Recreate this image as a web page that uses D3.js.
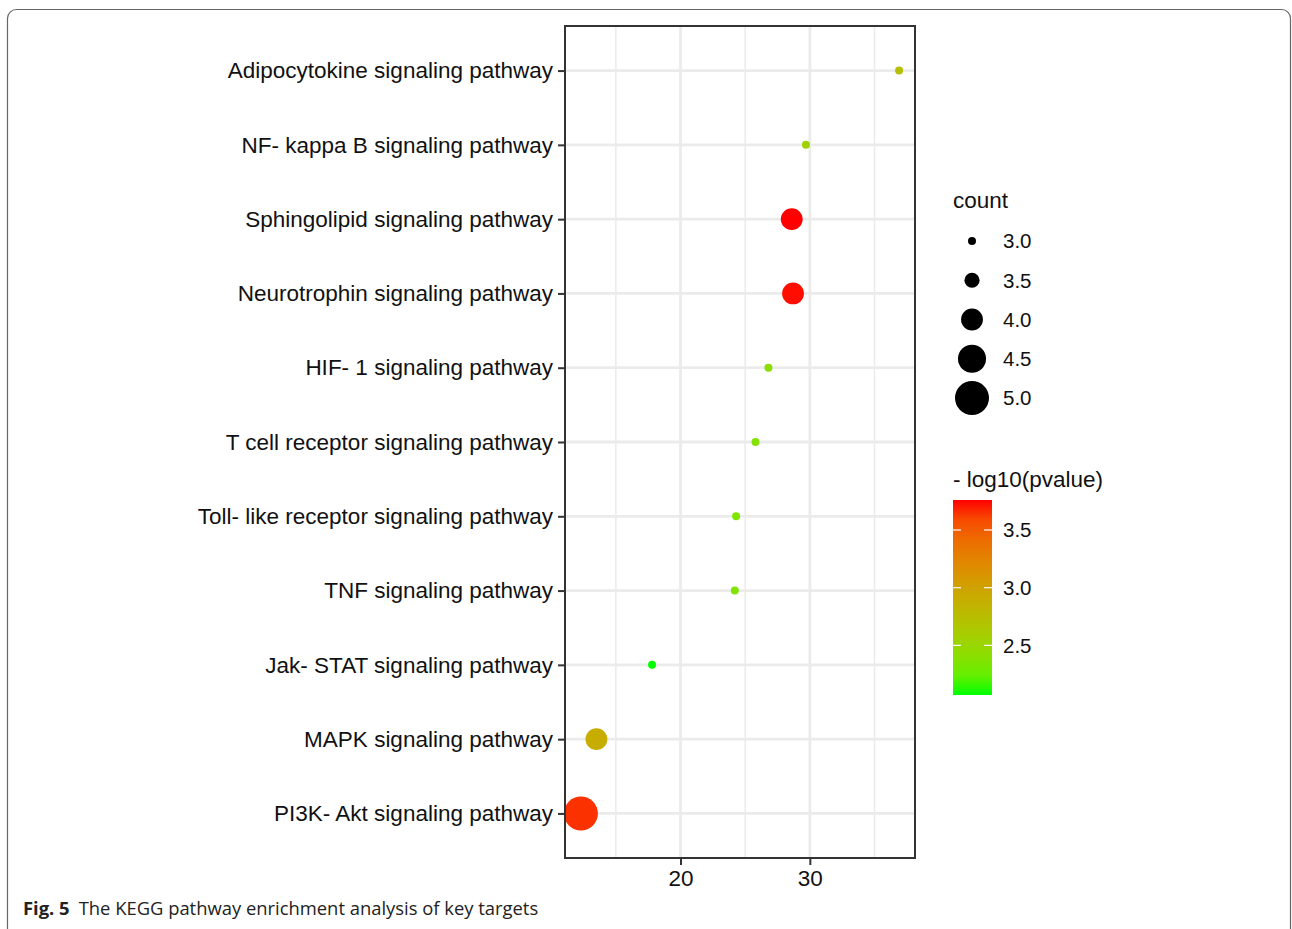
<!DOCTYPE html>
<html>
<head>
<meta charset="utf-8">
<script src="https://cdn.jsdelivr.net/npm/d3@7"></script>
<style>
  body { margin: 0; background: #fff; }
  svg text { font-family: Arial, "Liberation Sans", Helvetica, sans-serif; }
</style>
</head>
<body>
<svg id="chart" width="1292" height="929"></svg>
<script>
// pathways, top to bottom
const pathways = [
  "Adipocytokine signaling pathway",
  "NF- kappa B signaling pathway",
  "Sphingolipid signaling pathway",
  "Neurotrophin signaling pathway",
  "HIF- 1 signaling pathway",
  "T cell receptor signaling pathway",
  "Toll- like receptor signaling pathway",
  "TNF signaling pathway",
  "Jak- STAT signaling pathway",
  "MAPK signaling pathway",
  "PI3K- Akt signaling pathway"
];
const xValues = [36.9, 29.7, 28.6, 28.7, 26.8, 25.8, 24.3, 24.2, 17.8, 13.5, 12.3];
const counts = [3, 3, 4, 4, 3, 3, 3, 3, 3, 4, 5];
const logP = [2.72, 2.55, 3.76, 3.75, 2.42, 2.38, 2.35, 2.36, 2.07, 2.9, 3.68];

const xTicks = [20, 30];
const xMinor = [15, 25, 35];
const sizeTicks = [3.0, 3.5, 4.0, 4.5, 5.0];
const colorTicks = [2.5, 3.0, 3.5];

const FONT = "Arial, 'Liberation Sans', Helvetica, sans-serif";

const svg = d3.select("#chart");

// cadre de la figure
svg.append("rect")
  .attr("x", 7.5).attr("y", 9.5)
  .attr("width", 1283).attr("height", 940)
  .attr("rx", 9)
  .attr("fill", "none")
  .attr("stroke", "#666")
  .attr("stroke-width", 1.2);

const panel = { left: 565, right: 915, top: 26, bottom: 858 };

// echelles
const ext = d3.extent(xValues);
const pad = (ext[1] - ext[0]) * 0.05;
const x = d3.scaleLinear().domain([ext[0] - pad, ext[1] + pad]).range([panel.left, panel.right]);

const y = d3.scalePoint().domain(pathways).range([panel.top, panel.bottom]).padding(0.6);

const r = d3.scalePow().exponent(0.5).domain([3, 5]).range([4, 17]);

const pExt = d3.extent(logP);
const color = d3.scaleLinear().domain(pExt).range(["#00ff00", "#ff0000"]).interpolate(d3.interpolateLab);

// grille
const grid = svg.append("g");
grid.selectAll(".minor").data(xMinor).join("line")
  .attr("x1", d => x(d)).attr("x2", d => x(d))
  .attr("y1", panel.top).attr("y2", panel.bottom)
  .attr("stroke", "#ebebeb").attr("stroke-width", 1.5);
grid.selectAll(".majx").data(xTicks).join("line")
  .attr("x1", d => x(d)).attr("x2", d => x(d))
  .attr("y1", panel.top).attr("y2", panel.bottom)
  .attr("stroke", "#ebebeb").attr("stroke-width", 2.8);
grid.selectAll(".majy").data(pathways).join("line")
  .attr("x1", panel.left).attr("x2", panel.right)
  .attr("y1", d => y(d)).attr("y2", d => y(d))
  .attr("stroke", "#ebebeb").attr("stroke-width", 2.8);

// points
svg.append("g").selectAll("circle").data(pathways).join("circle")
  .attr("cx", (d, i) => x(xValues[i]))
  .attr("cy", d => y(d))
  .attr("r", (d, i) => r(counts[i]))
  .attr("fill", (d, i) => color(logP[i]));

// bordure du panneau
svg.append("rect")
  .attr("x", panel.left).attr("y", panel.top)
  .attr("width", panel.right - panel.left).attr("height", panel.bottom - panel.top)
  .attr("fill", "none").attr("stroke", "#333").attr("stroke-width", 2);

// axes
const xAxis = svg.append("g")
  .attr("transform", `translate(0,${panel.bottom})`)
  .call(d3.axisBottom(x).tickValues(xTicks).tickSize(7).tickPadding(5));
const yAxis = svg.append("g")
  .attr("transform", `translate(${panel.left},0)`)
  .call(d3.axisLeft(y).tickSize(7).tickPadding(5));

[xAxis, yAxis].forEach(a => {
  a.attr("font-family", FONT);
  a.select(".domain").remove();
  a.selectAll(".tick line").attr("stroke", "#333").attr("stroke-width", 2);
  a.selectAll(".tick text").attr("fill", "#111").style("font-size", "22.5px")
    .style("font-family", FONT);
});

// legende des tailles
const sizeLeg = svg.append("g").attr("transform", "translate(953,0)");
sizeLeg.append("text").attr("x", 0).attr("y", 208).text("count")
  .style("font-size", "22.5px").attr("fill", "#111");
const keyY = d3.scaleLinear().domain([3, 5]).range([241, 398]);
sizeLeg.selectAll("circle").data(sizeTicks).join("circle")
  .attr("cx", 19).attr("cy", d => keyY(d)).attr("r", d => r(d)).attr("fill", "#000");
sizeLeg.selectAll(".lab").data(sizeTicks).join("text")
  .attr("x", 50).attr("y", d => keyY(d)).attr("dy", "0.36em")
  .text(d => d3.format(".1f")(d))
  .style("font-size", "20.5px").attr("fill", "#111");

// legende des couleurs
const barTop = 500, barBottom = 695, barW = 39;
const colLeg = svg.append("g").attr("transform", "translate(953,0)");
colLeg.append("text").attr("x", 0).attr("y", 487).text("- log10(pvalue)")
  .style("font-size", "22.5px").attr("fill", "#111");

const defs = svg.append("defs");
const grad = defs.append("linearGradient").attr("id", "pgrad")
  .attr("x1", 0).attr("x2", 0).attr("y1", 1).attr("y2", 0);
d3.range(0, 1.001, 0.1).forEach(t => {
  grad.append("stop").attr("offset", t)
    .attr("stop-color", color(pExt[0] + t * (pExt[1] - pExt[0])));
});
colLeg.append("rect")
  .attr("x", 0).attr("y", barTop).attr("width", barW).attr("height", barBottom - barTop)
  .attr("fill", "url(#pgrad)");

const cy = d3.scaleLinear().domain(pExt).range([barBottom, barTop]);
colorTicks.forEach(v => {
  colLeg.append("line").attr("x1", 0).attr("x2", 8)
    .attr("y1", cy(v)).attr("y2", cy(v)).attr("stroke", "#fff").attr("stroke-width", 1.2);
  colLeg.append("line").attr("x1", barW - 8).attr("x2", barW)
    .attr("y1", cy(v)).attr("y2", cy(v)).attr("stroke", "#fff").attr("stroke-width", 1.2);
  colLeg.append("text").attr("x", 50).attr("y", cy(v)).attr("dy", "0.36em")
    .text(d3.format(".1f")(v)).style("font-size", "20.5px").attr("fill", "#111");
});

// legende de la figure
const cap = svg.append("text").attr("x", 23).attr("y", 915)
  .style("font-family", "'Open Sans', sans-serif").style("font-size", "18.4px").attr("fill", "#222");
cap.append("tspan").attr("font-weight", "bold").text("Fig. 5");
cap.append("tspan").attr("dx", 9).text("The KEGG pathway enrichment analysis of key targets");
</script>
</body>
</html>
